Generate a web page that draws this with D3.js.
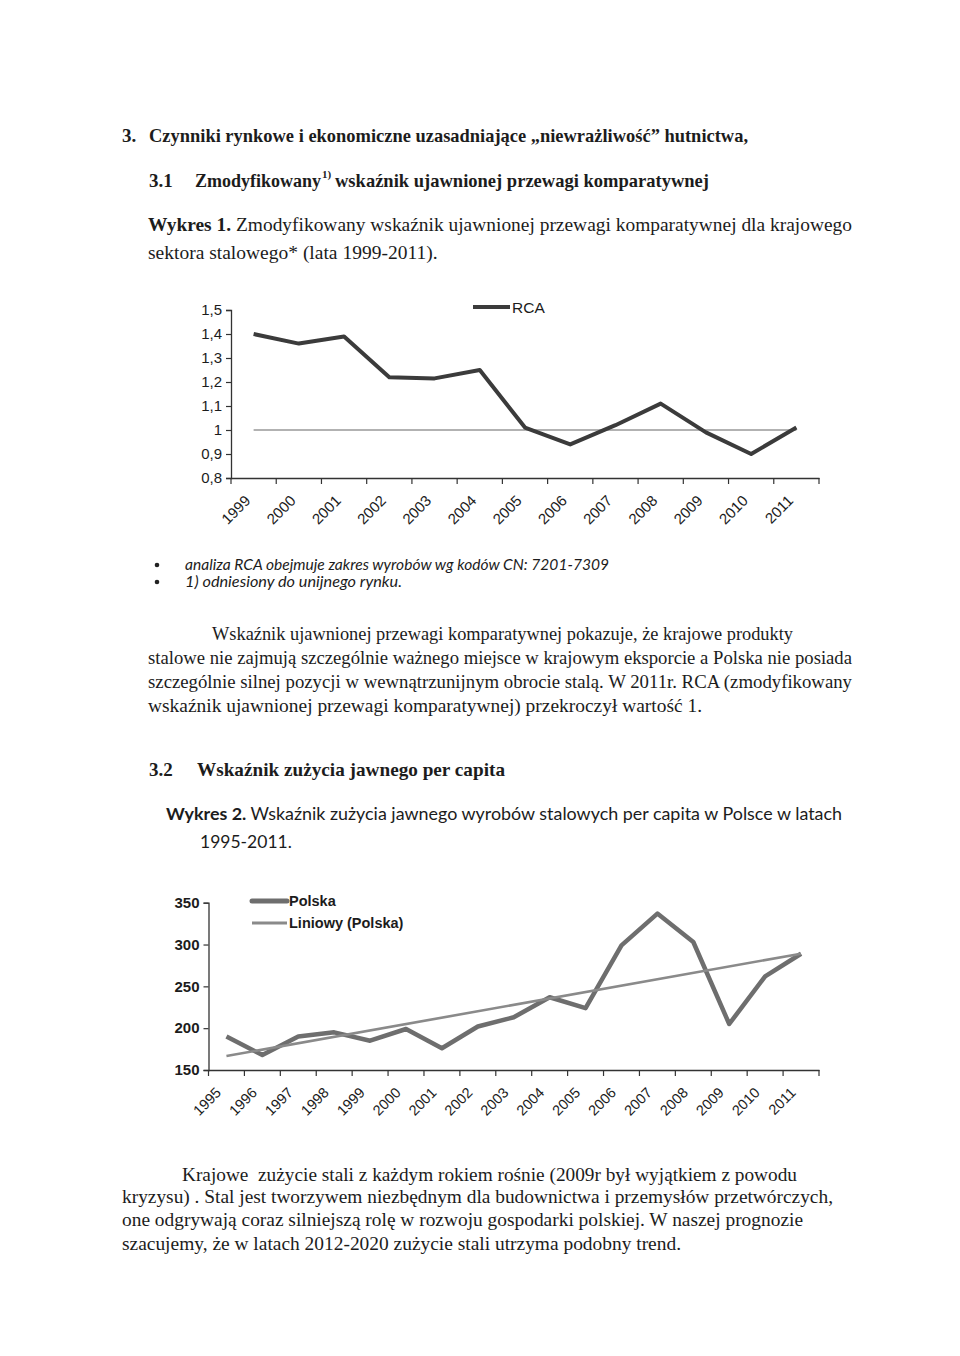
<!DOCTYPE html>
<html>
<head>
<meta charset="utf-8">
<script src="https://cdn.jsdelivr.net/npm/d3@7.9.0/dist/d3.min.js"></script>
<style>
  body { margin: 0; background: #fff; }
  svg text { fill: #1c1c1c; white-space: pre; }
</style>
</head>
<body>
<svg id="page" width="960" height="1356"></svg>
<script>
// Wykres 1 - RCA
const rcaYears = ['1999', '2000', '2001', '2002', '2003', '2004', '2005', '2006', '2007', '2008', '2009', '2010', '2011'];
const rcaValues = [1.40, 1.36, 1.39, 1.22, 1.215, 1.25, 1.01, 0.94, 1.02, 1.11, 0.99, 0.90, 1.01];
const rcaTicks = [0.8, 0.9, 1, 1.1, 1.2, 1.3, 1.4, 1.5];

// Wykres 2 - zuzycie jawne per capita
const plYears = ['1995', '1996', '1997', '1998', '1999', '2000', '2001', '2002', '2003', '2004', '2005', '2006', '2007', '2008', '2009', '2010', '2011'];
const plValues = [190, 168, 190, 195, 185, 199, 176, 202, 213, 237, 224, 299, 337, 303, 205, 262, 289];
const plTicks = [150, 200, 250, 300, 350];

const svg = d3.select('#page');
const pl = d3.formatLocale({ decimal: ',', thousands: ' ', grouping: [3], currency: ['', ' zł'] });
const fmt = pl.format('~g');

const serif = '"Liberation Serif", "Times New Roman", serif';
const sans = '"Liberation Sans", Arial, sans-serif';
const calibri = 'Lato, "Open Sans", sans-serif';

// helper for one line of page text
function line(x, y, parts, opts = {}) {
  let t = svg.append('text')
    .attr('x', x).attr('y', y)
    .attr('font-family', opts.family || serif)
    .attr('font-size', opts.size || 19)
    .attr('font-style', opts.italic ? 'italic' : null);
  if (opts.width) t.attr('textLength', opts.width).attr('lengthAdjust', 'spacingAndGlyphs');
  parts.forEach((p) => {
    let s = t.append('tspan').text(p.t);
    if (p.b) s.attr('font-weight', 'bold');
  });
  return t;
}

// ---- page text, top ----
line(122, 142, [{ t: '3.', b: 1 }]);
line(149, 142, [{ t: 'Czynniki rynkowe i ekonomiczne uzasadniające „niewrażliwość” hutnictwa,', b: 1 }], { width: 599 });
line(149, 187, [{ t: '3.1', b: 1 }]);
line(195, 187, [{ t: 'Zmodyfikowany', b: 1 }], { size: 18 });
line(322, 178, [{ t: '1)', b: 1 }], { size: 11 });
line(335, 187, [{ t: 'wskaźnik ujawnionej przewagi komparatywnej', b: 1 }], { width: 374 });
line(148, 231, [{ t: 'Wykres 1.', b: 1 }, { t: ' Zmodyfikowany wskaźnik ujawnionej przewagi komparatywnej dla krajowego' }], { size: 19.5, width: 704 });
line(148, 259, [{ t: 'sektora stalowego* (lata 1999-2011).' }], { size: 19.5 });

// ---- chart 1 ----
const x1 = d3.scaleBand().domain(rcaYears).range([231, 819]);
const y1 = d3.scaleLinear().domain([0.8, 1.5]).range([478, 310]);
const g1 = svg.append('g');

g1.append('g')
  .attr('transform', 'translate(231,0)')
  .call(d3.axisLeft(y1).tickValues(rcaTicks).tickFormat(fmt).tickSize(5).tickPadding(4))
  .call((g) => g.select('.domain').attr('stroke', '#333').attr('stroke-width', 1.3))
  .call((g) => g.selectAll('.tick line').attr('stroke', '#333').attr('stroke-width', 1.2))
  .call((g) => g.selectAll('.tick text').attr('font-family', sans).attr('font-size', 15).attr('fill', '#222'));

const xa1 = g1.append('g')
  .attr('transform', 'translate(0,478)')
  .call(d3.axisBottom(x1).tickSize(0).tickPadding(0));
xa1.select('.domain').attr('stroke', '#333').attr('stroke-width', 1.3);
xa1.selectAll('.tick text')
  .attr('font-family', sans).attr('font-size', 15).attr('fill', '#222')
  .attr('text-anchor', 'end')
  .attr('transform', 'translate(-6,20) rotate(-45)')
  .attr('dy', '0.35em').attr('y', 0);
g1.selectAll('.xt1')
  .data(rcaYears.concat(['end']))
  .join('line')
  .attr('x1', (d) => (d === 'end' ? 819 : x1(d)))
  .attr('x2', (d) => (d === 'end' ? 819 : x1(d)))
  .attr('y1', 478).attr('y2', 484)
  .attr('stroke', '#333').attr('stroke-width', 1.2);

// reference line at 1
g1.append('line')
  .attr('x1', x1(rcaYears[0]) + x1.bandwidth() / 2)
  .attr('x2', x1(rcaYears[rcaYears.length - 1]) + x1.bandwidth() / 2)
  .attr('y1', y1(1)).attr('y2', y1(1))
  .attr('stroke', '#666').attr('stroke-width', 1.2);

g1.append('path')
  .datum(rcaValues)
  .attr('fill', 'none')
  .attr('stroke', '#3b3b3b')
  .attr('stroke-width', 4)
  .attr('stroke-linejoin', 'round')
  .attr('d', d3.line((d, i) => x1(rcaYears[i]) + x1.bandwidth() / 2, (d) => y1(d)));

g1.append('line').attr('x1', 473).attr('x2', 510).attr('y1', 307).attr('y2', 307)
  .attr('stroke', '#3b3b3b').attr('stroke-width', 4);
g1.append('text').attr('x', 512).attr('y', 313)
  .attr('font-family', sans).attr('font-size', 15.5).attr('fill', '#222').text('RCA');

// ---- notes and paragraph ----
svg.append('circle').attr('cx', 157).attr('cy', 565).attr('r', 2.3).attr('fill', '#222');
svg.append('circle').attr('cx', 157).attr('cy', 582).attr('r', 2.3).attr('fill', '#222');
line(185, 570, [{ t: 'analiza RCA obejmuje zakres wyrobów wg kodów CN: 7201-7309' }], { family: calibri, size: 14.5, italic: 1, width: 424 });
line(185, 587, [{ t: '1) odniesiony do unijnego rynku.' }], { family: calibri, size: 14.5, italic: 1, width: 217 });

line(212, 640, [{ t: 'Wskaźnik ujawnionej przewagi komparatywnej pokazuje, że krajowe produkty' }], { width: 581 });
line(148, 664, [{ t: 'stalowe nie zajmują szczególnie ważnego miejsce w krajowym eksporcie a Polska nie posiada' }], { width: 704 });
line(148, 688, [{ t: 'szczególnie silnej pozycji w wewnątrzunijnym obrocie stalą. W 2011r. RCA (zmodyfikowany' }], { width: 704 });
line(148, 712, [{ t: 'wskaźnik ujawnionej przewagi komparatywnej) przekroczył wartość 1.' }], { width: 554 });

line(149, 776, [{ t: '3.2', b: 1 }]);
line(197, 776, [{ t: 'Wskaźnik zużycia jawnego per capita', b: 1 }], { width: 308 });

line(166, 820, [{ t: 'Wykres 2.', b: 1 }, { t: ' Wskaźnik zużycia jawnego wyrobów stalowych per capita w Polsce w latach' }], { family: calibri, size: 17.5, width: 676 });
line(200, 848, [{ t: '1995-2011.' }], { family: calibri, size: 17.5 });

// ---- chart 2 ----
const x2 = d3.scaleBand().domain(plYears).range([208.5, 819]);
const y2 = d3.scaleLinear().domain([150, 350]).range([1070, 902.7]);
const g2 = svg.append('g');

g2.append('g')
  .attr('transform', 'translate(208.5,0)')
  .call(d3.axisLeft(y2).tickValues(plTicks).tickSize(5).tickPadding(4))
  .call((g) => g.select('.domain').attr('stroke', '#333').attr('stroke-width', 1.3))
  .call((g) => g.selectAll('.tick line').attr('stroke', '#333').attr('stroke-width', 1.2))
  .call((g) => g.selectAll('.tick text').attr('font-family', sans).attr('font-size', 15).attr('font-weight', 'bold').attr('fill', '#2a2a2a'));

const xa2 = g2.append('g')
  .attr('transform', 'translate(0,1070)')
  .call(d3.axisBottom(x2).tickSize(0).tickPadding(0));
xa2.select('.domain').attr('stroke', '#333').attr('stroke-width', 1.3);
xa2.selectAll('.tick text')
  .attr('font-family', sans).attr('font-size', 14.5).attr('fill', '#222')
  .attr('text-anchor', 'end')
  .attr('transform', 'translate(-8,20) rotate(-45)')
  .attr('dy', '0.35em').attr('y', 0);
g2.selectAll('.xt2')
  .data(plYears.concat(['end']))
  .join('line')
  .attr('x1', (d) => (d === 'end' ? 819 : x2(d)))
  .attr('x2', (d) => (d === 'end' ? 819 : x2(d)))
  .attr('y1', 1070).attr('y2', 1076)
  .attr('stroke', '#333').attr('stroke-width', 1.2);

// linear trend (least squares over the series)
const idx = plValues.map((d, i) => i);
const mx = d3.mean(idx), my = d3.mean(plValues);
const slope = d3.sum(idx, (i) => (i - mx) * (plValues[i] - my)) / d3.sum(idx, (i) => (i - mx) ** 2);
const icpt = my - slope * mx;
const trend = [0, plValues.length - 1].map((i) => ({ i, v: icpt + slope * i }));

const cx2 = (i) => x2(plYears[i]) + x2.bandwidth() / 2;

g2.append('path')
  .datum(plValues)
  .attr('fill', 'none')
  .attr('stroke', '#6e6e6e')
  .attr('stroke-width', 4.5)
  .attr('stroke-linejoin', 'round')
  .attr('d', d3.line((d, i) => cx2(i), (d) => y2(d)));

g2.append('path')
  .datum(trend)
  .attr('fill', 'none')
  .attr('stroke', '#8a8a8a')
  .attr('stroke-width', 2.6)
  .attr('d', d3.line((d) => cx2(d.i), (d) => y2(d.v)));

g2.append('line').attr('x1', 252).attr('x2', 287).attr('y1', 901).attr('y2', 901)
  .attr('stroke', '#6e6e6e').attr('stroke-width', 5).attr('stroke-linecap', 'round');
g2.append('text').attr('x', 289).attr('y', 906)
  .attr('font-family', sans).attr('font-size', 14.5).attr('font-weight', 'bold').attr('fill', '#2a2a2a').text('Polska');
g2.append('line').attr('x1', 252).attr('x2', 287).attr('y1', 923).attr('y2', 923)
  .attr('stroke', '#8a8a8a').attr('stroke-width', 3);
g2.append('text').attr('x', 289).attr('y', 928)
  .attr('font-family', sans).attr('font-size', 14.5).attr('font-weight', 'bold').attr('fill', '#2a2a2a').text('Liniowy (Polska)');

// ---- bottom paragraph ----
line(182, 1181, [{ t: 'Krajowe  zużycie stali z każdym rokiem rośnie (2009r był wyjątkiem z powodu' }], { width: 615 });
line(122, 1203, [{ t: 'kryzysu) . Stal jest tworzywem niezbędnym dla budownictwa i przemysłów przetwórczych,' }], { width: 711 });
line(122, 1226, [{ t: 'one odgrywają coraz silniejszą rolę w rozwoju gospodarki polskiej. W naszej prognozie' }], { width: 681 });
line(122, 1250, [{ t: 'szacujemy, że w latach 2012-2020 zużycie stali utrzyma podobny trend.' }], { width: 559 });
</script>
</body>
</html>
